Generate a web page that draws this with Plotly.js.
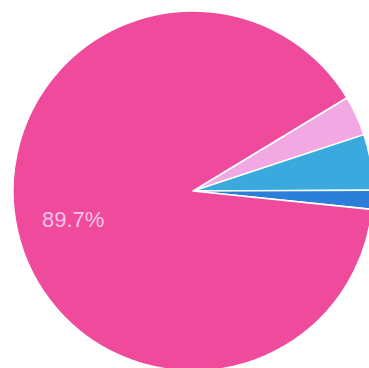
<!DOCTYPE html>
<html>
<head>
<meta charset="utf-8">
<script src="https://cdn.plot.ly/plotly-3.0.1.min.js"></script>
<style>
html,body{margin:0;padding:0;overflow:hidden;background:#fff;}
#chart{width:380px;height:380px;}
</style>
</head>
<body>
<div id="chart"></div>
<script>
var labels = ["B", "C", "D", "A"];
var values = [3.6, 5.0, 1.7, 89.7];
var colors = ["#f2a9e3", "#3aa9de", "#2b7fd9", "#ef4a9c"];
var labelIndex = 3;

var W = 380, H = 380;
var total = values.reduce(function (a, b) { return a + b; }, 0);
var labelText = (values[labelIndex] / total * 100).toFixed(1) + "%";

var trace = {
  type: "pie",
  labels: labels,
  values: values,
  sort: false,
  direction: "clockwise",
  rotation: 58.8,
  marker: {colors: colors, line: {color: "#ffffff", width: 1.5}},
  textinfo: "none",
  hoverinfo: "none",
  showlegend: false,
  domain: {x: [13 / W, 373 / W], y: [9 / H, 369 / H]}
};
Plotly.newPlot("chart", [trace], {
  width: W, height: H,
  margin: {l: 0, r: 0, t: 0, b: 0},
  paper_bgcolor: "#ffffff",
  showlegend: false,
  annotations: [{
    text: labelText,
    xref: "paper", yref: "paper",
    x: 73 / W, y: (H - 219) / H,
    xanchor: "center", yanchor: "middle",
    showarrow: false,
    font: {family: "Liberation Sans, Arial, sans-serif", size: 22, color: "#f6c3e8"}
  }]
}, {staticPlot: true, displayModeBar: false});
</script>
</body>
</html>
